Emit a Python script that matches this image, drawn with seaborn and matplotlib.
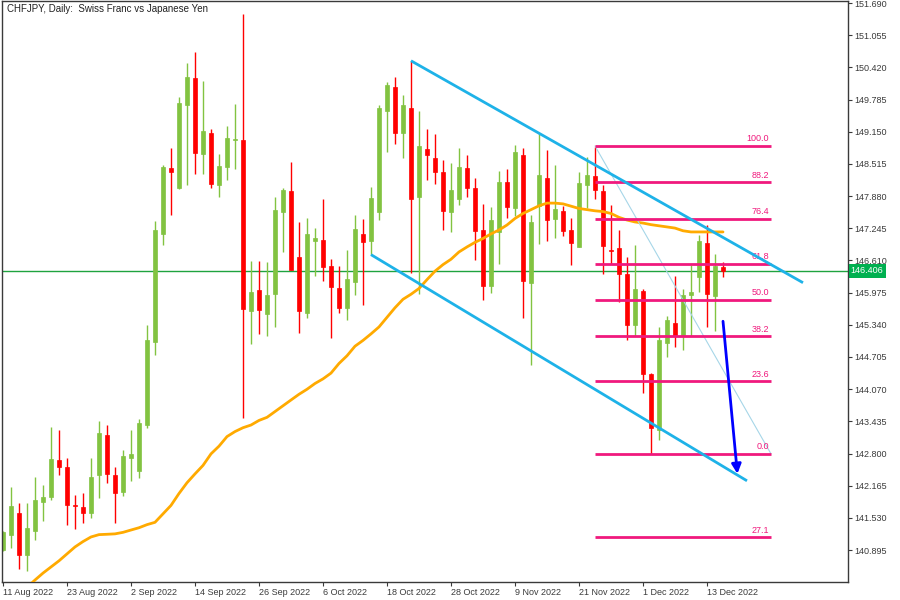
import numpy as np
import pandas as pd
import seaborn as sns
import matplotlib
matplotlib.use("Agg")
import matplotlib.pyplot as plt

# CHFJPY daily candles, 11 Aug 2022 .. 15 Dec 2022
opens = [
    140.895, 141.183, 141.616, 140.804, 141.275, 141.836, 141.935, 142.664, 142.542, 141.776,
    141.753, 141.624, 142.375, 143.157, 142.368, 142.034, 142.709, 142.451, 143.370, 145.009,
    147.135, 148.441, 148.046, 149.678, 150.202, 148.706, 149.131, 148.099, 148.448, 148.980,
    148.995, 145.617, 146.019, 145.548, 145.943, 147.560, 147.978, 146.672, 145.571, 146.998,
    147.006, 146.497, 146.057, 145.670, 146.186, 147.127, 146.998, 147.575, 149.556, 150.027,
    149.131, 149.610, 147.871, 148.813, 148.638, 148.357, 147.575, 147.833, 148.441, 148.038,
    147.211, 146.103, 147.173, 148.160, 147.651, 148.684, 146.156, 147.689, 148.236, 147.423,
    147.583, 147.211, 146.877, 148.099, 148.281, 147.978, 146.824, 146.854, 146.345, 145.328,
    146.004, 144.379, 143.263, 144.987, 145.366, 145.116, 145.928, 146.292, 146.960, 145.905,
    146.482]
highs = [
    141.275, 142.148, 141.829, 141.829, 142.330, 142.185, 143.324, 143.263, 142.702, 141.981,
    142.026, 142.702, 143.438, 143.362, 142.542, 142.869, 143.263, 143.476, 145.336, 147.385,
    148.501, 148.820, 149.837, 150.498, 150.726, 150.149, 149.207, 148.706, 149.260, 149.693,
    151.470, 146.596, 146.596, 146.573, 147.864, 148.038, 148.555, 147.363, 147.446, 147.249,
    147.833, 146.634, 146.497, 146.809, 147.507, 147.423, 148.061, 149.678, 150.141, 150.225,
    149.868, 150.551, 149.564, 149.207, 149.109, 148.600, 148.539, 148.820, 148.699, 148.236,
    147.719, 147.666, 148.380, 148.410, 148.896, 148.820, 147.507, 149.116, 148.797, 148.494,
    147.682, 147.446, 148.350, 148.653, 148.858, 148.107, 147.704, 147.211, 146.672, 146.915,
    146.042, 144.387, 145.305, 145.510, 146.300, 146.042, 146.520, 147.112, 147.302, 146.740,
    146.588]
lows = [
    140.880, 140.933, 140.515, 140.477, 141.085, 141.464, 141.882, 142.375, 141.381, 141.305,
    141.419, 141.525, 141.920, 142.216, 141.419, 141.958, 142.261, 142.315, 143.309, 144.751,
    146.922, 147.515, 148.016, 148.091, 148.319, 148.319, 148.031, 147.871, 148.190, 148.425,
    143.506, 144.971, 145.161, 145.116, 145.290, 146.778, 146.414, 145.184, 145.465, 146.300,
    146.201, 145.070, 145.571, 145.427, 145.928, 145.731, 146.725, 147.408, 148.744, 148.911,
    148.638, 146.368, 145.943, 148.198, 148.129, 147.218, 147.165, 147.712, 147.871, 146.611,
    145.822, 145.966, 146.550, 147.446, 147.492, 145.472, 144.554, 146.930, 146.991, 147.059,
    147.097, 146.512, 146.877, 147.651, 147.833, 146.338, 146.543, 145.784, 145.032, 145.123,
    143.985, 142.793, 143.058, 144.713, 144.896, 144.835, 145.116, 145.989, 145.298, 145.222,
    146.285]
closes = [
    141.259, 141.768, 140.804, 141.335, 141.882, 141.950, 142.687, 142.542, 141.783, 141.760,
    141.624, 142.330, 143.203, 142.398, 142.018, 142.747, 142.785, 143.400, 145.032, 147.211,
    148.463, 148.365, 149.716, 150.225, 148.722, 149.169, 148.129, 148.479, 149.033, 149.002,
    145.647, 145.981, 145.624, 145.936, 147.613, 148.008, 146.414, 145.609, 147.127, 147.044,
    146.482, 146.087, 145.677, 146.254, 147.226, 146.976, 147.841, 149.610, 150.080, 149.131,
    149.686, 147.833, 148.873, 148.684, 148.365, 147.583, 148.000, 148.456, 148.031, 147.196,
    146.103, 147.408, 148.160, 147.666, 148.752, 146.201, 147.363, 148.296, 147.416, 147.621,
    147.196, 146.960, 148.137, 148.296, 148.008, 146.892, 146.801, 146.345, 145.328, 146.042,
    144.372, 143.309, 145.032, 145.427, 145.116, 145.936, 145.981, 146.991, 145.943, 146.497,
    146.406]
# moving average (orange line)
ma_line = [
    139.756, 139.893, 140.022, 140.159, 140.303, 140.440, 140.561, 140.682, 140.819, 140.956,
    141.062, 141.153, 141.199, 141.206, 141.214, 141.244, 141.290, 141.335, 141.396, 141.442,
    141.609, 141.776, 142.011, 142.223, 142.398, 142.565, 142.793, 142.945, 143.134, 143.233,
    143.309, 143.362, 143.453, 143.514, 143.628, 143.742, 143.856, 143.969, 144.068, 144.182,
    144.273, 144.387, 144.577, 144.729, 144.918, 145.032, 145.161, 145.298, 145.488, 145.677,
    145.844, 145.943, 146.057, 146.232, 146.399, 146.528, 146.634, 146.778, 146.877, 146.968,
    147.044, 147.135, 147.211, 147.310, 147.439, 147.537, 147.613, 147.689, 147.742, 147.742,
    147.727, 147.682, 147.636, 147.613, 147.590, 147.575, 147.537, 147.461, 147.408, 147.370,
    147.348, 147.317, 147.294, 147.272, 147.249, 147.196, 147.173, 147.173, 147.173, 147.173,
    147.173]

bid = 146.406
price_ticks = [140.895, 141.530, 142.165, 142.800, 143.435, 144.070, 144.705, 145.340,
               145.975, 146.610, 147.245, 147.880, 148.515, 149.150, 149.785, 150.420,
               151.055, 151.690]

# drawn objects: (bar index, price)
chan_upper = [(51, 150.551), (100, 146.171)]
chan_lower = [(46, 146.725), (93, 142.261)]
fib_start, fib_end = 74, 96
fib_high, fib_low = 148.870, 142.793
fib_ratios = [100.0, 88.2, 76.4, 61.8, 50.0, 38.2, 23.6, 0.0, -27.1]
arrow_from = (90, 145.41)
arrow_to = (91.8, 142.40)

GREEN = "#82C341"
RED = "#FF0000"
ORANGE = "#FFAA00"
CYAN = "#1EB2E8"
PINK = "#F0197D"
FRAME = "#3A3A3A"

dates = pd.bdate_range("2022-08-11", periods=len(opens))
df = pd.DataFrame({"i": np.arange(len(opens)), "open": opens, "high": highs,
                   "low": lows, "close": closes, "ma": ma_line})

sns.set_style("white")
plt.rcParams["font.family"] = ["Liberation Sans", "DejaVu Sans"]

fig = plt.figure(figsize=(9, 6), dpi=100)
ax = fig.add_axes([2 / 900, 18 / 600, 846 / 900, 581 / 600])

colors = np.where(df["close"] >= df["open"], GREEN, RED)
ax.axhline(bid, color="#1FA33F", lw=1, zorder=1)
ax.vlines(df["i"], df["low"], df["high"], colors=colors, lw=1, zorder=2)
ax.bar(df["i"], (df["close"] - df["open"]).abs(),
       bottom=df[["open", "close"]].min(axis=1), width=0.56,
       color=colors, edgecolor=colors, lw=0.5, zorder=2)

sns.lineplot(data=df, x="i", y="ma", ax=ax, color=ORANGE, lw=2, zorder=3)

# fibonacci retracement
ax.plot([fib_start, fib_end], [fib_high, fib_low], color="#A6D6E8", lw=0.8, zorder=3)
for r in fib_ratios:
    p = fib_low + (fib_high - fib_low) * r / 100
    ax.hlines(p, fib_start, fib_end, color=PINK, lw=2, zorder=4)
    ax.annotate(f"{abs(r):.1f}", (fib_end, p), xytext=(-1.5, 1.8),
                textcoords="offset points", ha="right", va="bottom",
                color=PINK, fontsize=6.5, zorder=5)

# channel
for line in (chan_upper, chan_lower):
    xs, ys = zip(*line)
    ax.plot(xs, ys, color=CYAN, lw=2, zorder=5, solid_capstyle="butt")

ax.annotate("", xy=arrow_to, xytext=arrow_from,
            arrowprops=dict(arrowstyle="-|>", color="#0000FF", lw=2,
                            mutation_scale=14, shrinkA=0, shrinkB=0), zorder=6)

ax.set_xlim(-0.125, 105.625)
ax.set_ylim(140.264, 151.731)

ax.yaxis.tick_right()
ax.set_yticks(price_ticks)
ax.set_yticklabels([f"{v:.3f}" for v in price_ticks])
xt = list(range(0, len(dates), 8))
ax.set_xticks(xt)
ax.set_xticklabels([f"{dates[k].day} {dates[k]:%b %Y}" for k in xt])
for lbl in ax.get_xticklabels():
    lbl.set_ha("left")
ax.tick_params(axis="both", direction="out", length=3, width=0.8,
               colors=FRAME, labelsize=6.5, pad=1.5)
ax.tick_params(axis="y", left=False, right=True)
ax.tick_params(axis="x", bottom=True)
ax.set_xlabel("")
ax.set_ylabel("")
for s in ax.spines.values():
    s.set_visible(True)
    s.set_color(FRAME)
    s.set_linewidth(1)

ax.annotate(f"{bid:.3f}", xy=(1, bid), xycoords=("axes fraction", "data"),
            xytext=(2, 0), textcoords="offset points", ha="left", va="center",
            color="white", fontsize=6.5, annotation_clip=False,
            bbox=dict(boxstyle="square,pad=0.25", fc="#00B050", ec="none"))

fig.text(7 / 900, 1 - 4 / 600, "CHFJPY, Daily:  Swiss Franc vs Japanese Yen",
         ha="left", va="top", fontsize=7, color="#222222")

fig.savefig("out.png", dpi=100)
